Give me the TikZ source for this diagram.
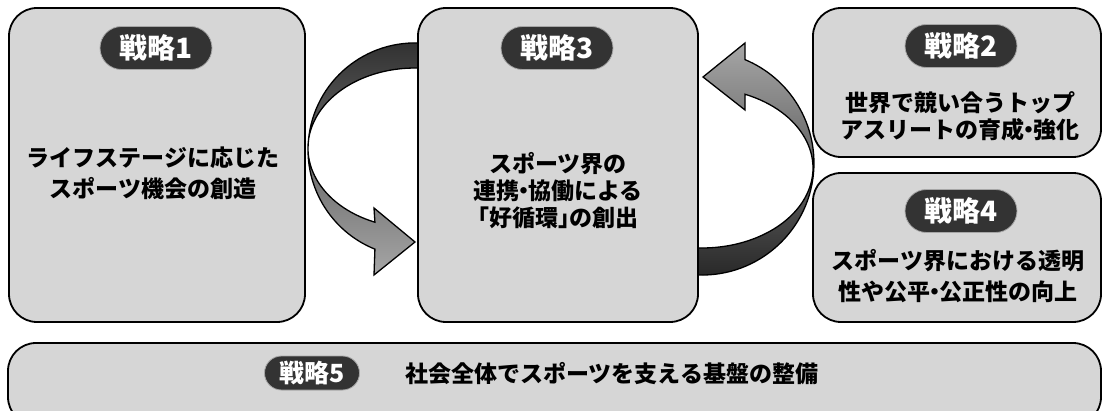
\documentclass[tikz,border=0pt]{standalone}
\usepackage{fontspec}
\newfontfamily\jp{Noto Sans CJK JP}
\usetikzlibrary{shapes.misc}
\definecolor{boxfill}{gray}{0.84}
\definecolor{pillfill}{gray}{0.2}
\newcommand\jpdot{\kern-0.3em・\kern-0.3em}
\tikzset{
  panel/.style={draw=black, line width=1.8pt, fill=boxfill, rounded corners=28pt, inner sep=0pt},
  pill/.style={rounded rectangle, fill=pillfill, draw=gray!70, line width=0.8pt, text=white,
    font=\jp\bfseries\fontsize{28}{28}\selectfont, minimum width=112pt, minimum height=43pt, inner sep=0pt},
  smallpill/.style={pill, font=\jp\bfseries\fontsize{25}{25}\selectfont, minimum width=95pt, minimum height=34pt},
  body/.style={font=\jp\bfseries\fontsize{23}{27}\selectfont, align=center, text=black, inner sep=0pt},
  band/.style={draw=black, line width=1.3pt},
}
\begin{document}
\begin{tikzpicture}[x=1pt,y=1pt]
\useasboundingbox (0,0) rectangle (1103,410);
\fill[white] (0,0) rectangle (1103,410);

% left circular arrow (box 3 top -> back into box 3)
\shadedraw[band, top color=black!82, bottom color=black!35]
  (429.9,366.0) arc[start angle=82, end angle=248, radius=107]
  -- (374,135) -- (415,168) -- (374,202) -- (374.9,187.8)
  arc[start angle=248, end angle=82, x radius=107, y radius=80] -- cycle;

% right circular arrow (box 3 bottom -> back into box 3 top)
\shadedraw[band, top color=black!35, bottom color=black!85]
  (692.2,135.4) arc[start angle=265, end angle=427.4, radius=112]
  -- (745,367) -- (703,333) -- (745,300) -- (745.0,315.75)
  arc[start angle=67.2, end angle=-95, x radius=111, y radius=80] -- cycle;

% panels
\node[panel, minimum width=296pt, minimum height=314pt] (b1) at (157,245) {};
\node[panel, minimum width=280pt, minimum height=314pt] (b3) at (558,245) {};
\node[panel, minimum width=288pt, minimum height=149pt] (b2) at (957,327.5) {};
\node[panel, minimum width=288pt, minimum height=149pt] (b4) at (957,162.5) {};
\node[panel, minimum width=1093pt, minimum height=82pt] (b5) at (554.5,26) {};

% pills
\node[pill] (p1) at (156,362) {戦略1};
\node[pill] (p3) at (557,362) {戦略3};
\node[pill] (p2) at (961,364) {戦略2};
\node[pill] (p4) at (961,199) {戦略4};
\node[smallpill] (p5) at (312,37) {戦略5};

% texts
\node[body] (t1) at (153,237) {ライフステージに応じた\\[4pt]スポーツ機会の創造};
\node[body] (t3) at (558,219) {スポーツ界の\\連携\jpdot 協働による\\\kern-0.5em「好循環」\kern-0.5em の創出};
\node[body] (t2) at (960,294) {世界で競い合うトップ\\アスリートの育成\jpdot 強化};
\node[body] (t4) at (958,134) {スポーツ界における透明\\[4pt]性や公平\jpdot 公正性の向上};
\node[body, anchor=west] (t5) at (405,36) {社会全体でスポーツを支える基盤の整備};
\end{tikzpicture}
\end{document}
